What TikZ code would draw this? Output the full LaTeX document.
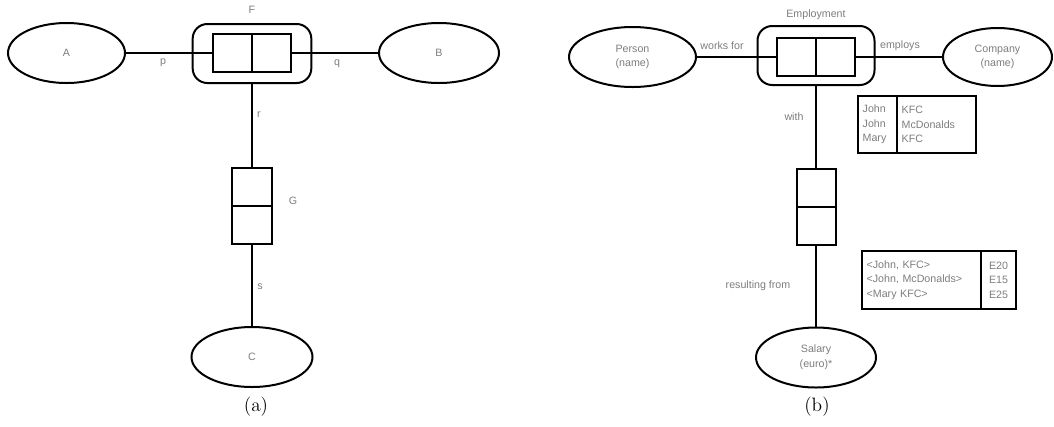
\documentclass[tikz,border=0pt]{standalone}
\usepackage{fontspec}
\usepackage{tikz}
\usetikzlibrary{positioning,shapes.geometric}
\newfontfamily\erfont{Liberation Sans}
\definecolor{labelGray}{RGB}{125,125,125}

\begin{document}
\begin{tikzpicture}[
  x=0.75pt, y=-0.75pt,
  lbl/.style={font=\erfont\fontsize{8}{11}\selectfont, text=labelGray, inner sep=1pt, align=center},
  ent/.style={ellipse, draw, line width=1.5pt, lbl, minimum width=90pt, minimum height=45pt},
  cell/.style={rectangle, draw, line width=1.5pt, fill=white, minimum width=29.25pt,
    minimum height=28.5pt, inner sep=0pt},
  rel/.style={rectangle, rounded corners=11pt, draw, line width=1.5pt,
    minimum width=89pt, minimum height=44.25pt},
  col/.style={rectangle, draw, line width=1.5pt, lbl, align=left, inner sep=3.5pt},
  conn/.style={line width=1.5pt},
  subcap/.style={font=\fontsize{14.5}{17}\selectfont, inner sep=0pt}]
  \useasboundingbox (0,0) rectangle (1054,426);

  % (a) abstract schema
  \node[ent, minimum width=87.75pt] (A) at (66.5,53) {A};
  \node[ent] (B) at (439,53) {B};
  \node[ent, minimum width=90.75pt] (C) at (252,357) {C};
  \node[rel] (F) at (252,53.5) {};
  \node[cell] (Fl) at (232.5,53) {};
  \node[cell] (Fr) at (271.5,53) {};
  \node[cell, minimum width=30pt] (Gt) at (252,187) {};
  \node[cell, minimum width=30pt] (Gb) at (252,225) {};
  \node[lbl] (labF) at (252,10) {F};
  \node[lbl] (labG) at (293,201) {G};
  \node[lbl] (labp) at (163,63) {p};
  \node[lbl] (labq) at (337,64) {q};
  \node[lbl] (labr) at (259,115) {r};
  \node[lbl] (labs) at (260,287) {s};
  \draw[conn] (A) -- (Fl);
  \draw[conn] (Fr) -- (B);
  \draw[conn] (F) -- (Gt);
  \draw[conn] (Gb) -- (C);
  \node[subcap] (capa) at (256,407) {(a)};

  % (b) employment example
  \node[ent, minimum width=95.25pt] (person) at (632.5,57) {Person\\(name)};
  \node[ent, minimum width=81.75pt, minimum height=43.5pt] (company) at (997.5,57) {Company\\(name)};
  \node[ent] (salary) at (816,357.5) {Salary\\(euro)*};
  \node[rel, minimum width=87.75pt] (employ) at (816,55.5) {};
  \node[cell] (El) at (796.5,57) {};
  \node[cell] (Er) at (835.5,57) {};
  \node[cell] (Wt) at (816,188) {};
  \node[cell] (Wb) at (816,226) {};
  \node[lbl] (labEmp) at (816,15) {Employment};
  \node[lbl] (labWorks) at (722,46) {works for};
  \node[lbl] (labEmploys) at (900,46) {employs};
  \node[lbl] (labWith) at (794,117) {with};
  \node[lbl] (labResult) at (758,286) {resulting from};
  \draw[conn] (person) -- (El);
  \draw[conn] (Er) -- (company);
  \draw[conn] (employ) -- (Wt);
  \draw[conn] (Wb) -- (salary);

  \node[col, text width=22.25pt, minimum height=42.75pt] (tabName) at (877.5,124.5) {John\\John\\Mary};
  \node[col, text width=52.25pt, minimum height=42.75pt] (tabComp) at (936.5,124.5) {KFC\\McDonalds\\KFC};
  \node[col, text width=82.25pt, minimum height=43.5pt] (tabPair) at (921.5,280) {<John, KFC>\\<John, McDonalds>\\<Mary KFC>};
  \node[col, text width=19.25pt, minimum height=43.5pt, align=center] (tabSal) at (998.5,280) {E20\\E15\\E25};
  \node[subcap] (capb) at (817,407) {(b)};
\end{tikzpicture}
\end{document}
